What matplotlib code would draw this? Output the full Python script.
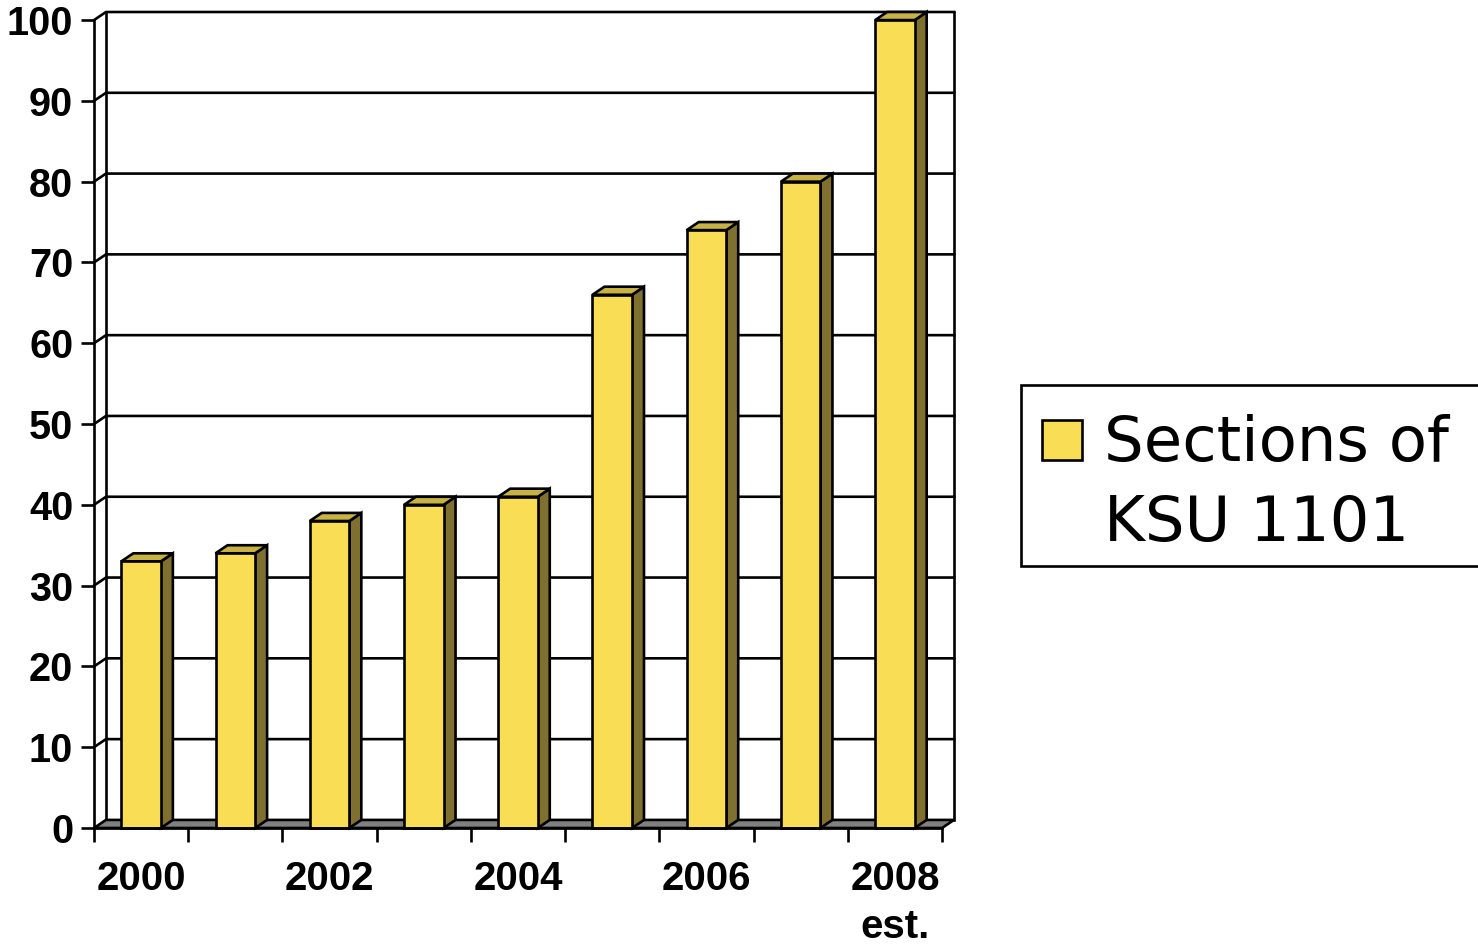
import numpy as np
import matplotlib
matplotlib.use('Agg')
import matplotlib.pyplot as plt
from matplotlib.patches import Polygon, Rectangle

years = ['2000', '2001', '2002', '2003', '2004', '2005', '2006', '2007', '2008\nest.']
sections = [33, 34, 38, 40, 41, 66, 74, 80, 100]
yticks = [0, 10, 20, 30, 40, 50, 60, 70, 80, 90, 100]
series_name = ['Sections of', 'KSU 1101']

front_c = '#F9DE55'
side_c = '#807030'
top_c = '#C8B244'
floor_c = '#808080'
lw = 1.9

# depth of the fake 3d box, in data units
dx = 0.127
dy = 1.0
ymax = 100
n = len(years)

fig = plt.figure(figsize=(14.78, 9.44), dpi=100)
ax = fig.add_axes([94/1478, 116/944, 860/1478, 816/944])
ax.set_xlim(0, n + dx)
ax.set_ylim(0, ymax + dy)

# walls and gridlines
for v in yticks[1:]:
    ax.plot([0, dx, n + dx], [v, v + dy, v + dy], color='black', lw=lw, zorder=1, clip_on=False)
ax.plot([dx, dx], [dy, ymax + dy], color='black', lw=lw, zorder=1, clip_on=False)
ax.plot([n + dx, n + dx], [dy, ymax + dy], color='black', lw=lw, zorder=1, clip_on=False)

# floor
floor = Polygon([(0, 0), (n, 0), (n + dx, dy), (dx, dy)], closed=True,
                facecolor=floor_c, edgecolor='black', lw=lw, zorder=2, clip_on=False)
ax.add_patch(floor)

# bars
for i, v in enumerate(sections):
    x0 = i + 0.29
    x1 = i + 0.71
    ax.add_patch(Polygon([(x1, 0), (x1 + dx, dy), (x1 + dx, v + dy), (x1, v)], closed=True,
                         facecolor=side_c, edgecolor='black', lw=lw, zorder=3, clip_on=False))
    ax.add_patch(Polygon([(x0, v), (x1, v), (x1 + dx, v + dy), (x0 + dx, v + dy)], closed=True,
                         facecolor=top_c, edgecolor='black', lw=lw, zorder=3, clip_on=False))
    ax.add_patch(Rectangle((x0, 0), x1 - x0, v, facecolor=front_c, edgecolor='black',
                           lw=lw, zorder=4, clip_on=False))

# axes
for s in ['top', 'right']:
    ax.spines[s].set_visible(False)
ax.spines['left'].set_bounds(0, ymax)
ax.spines['bottom'].set_bounds(0, n)
ax.spines['left'].set_linewidth(lw)
ax.spines['bottom'].set_linewidth(lw)
ax.spines['left'].set_zorder(5)
ax.spines['bottom'].set_zorder(5)

ax.set_yticks(yticks)
ax.set_yticklabels([str(t) for t in yticks], fontsize=28.5, fontweight='bold', family='Liberation Sans')
ax.tick_params(axis='y', length=9.5, width=lw, pad=5.5)

ax.set_xticks(np.arange(0, n + 1))
ax.set_xticklabels([])
ax.set_xticks(np.arange(n) + 0.5, minor=True)
xl = ax.set_xticklabels([y if i % 2 == 0 else '' for i, y in enumerate(years)], minor=True,
                        fontsize=29, fontweight='bold', family='Liberation Sans')
for t in xl:
    t.set_linespacing(1.35)
ax.tick_params(axis='x', which='major', length=10, width=lw)
ax.tick_params(axis='x', which='minor', length=0, pad=23)

# legend box
fig.add_artist(Rectangle((1021/1478, (944-566)/944), 600/1478, 181/944, transform=fig.transFigure,
                         facecolor='white', edgecolor='black', lw=lw))
fig.add_artist(Rectangle((1042/1478, (944-460)/944), 40/1478, 40/944, transform=fig.transFigure,
                         facecolor=front_c, edgecolor='black', lw=lw))
fig.text(1104/1478, (944-461)/944, series_name[0], fontsize=45, family='DejaVu Sans', va='baseline')
fig.text(1104/1478, (944-541)/944, series_name[1], fontsize=45, family='DejaVu Sans', va='baseline')

fig.savefig('out.png', dpi=100)
